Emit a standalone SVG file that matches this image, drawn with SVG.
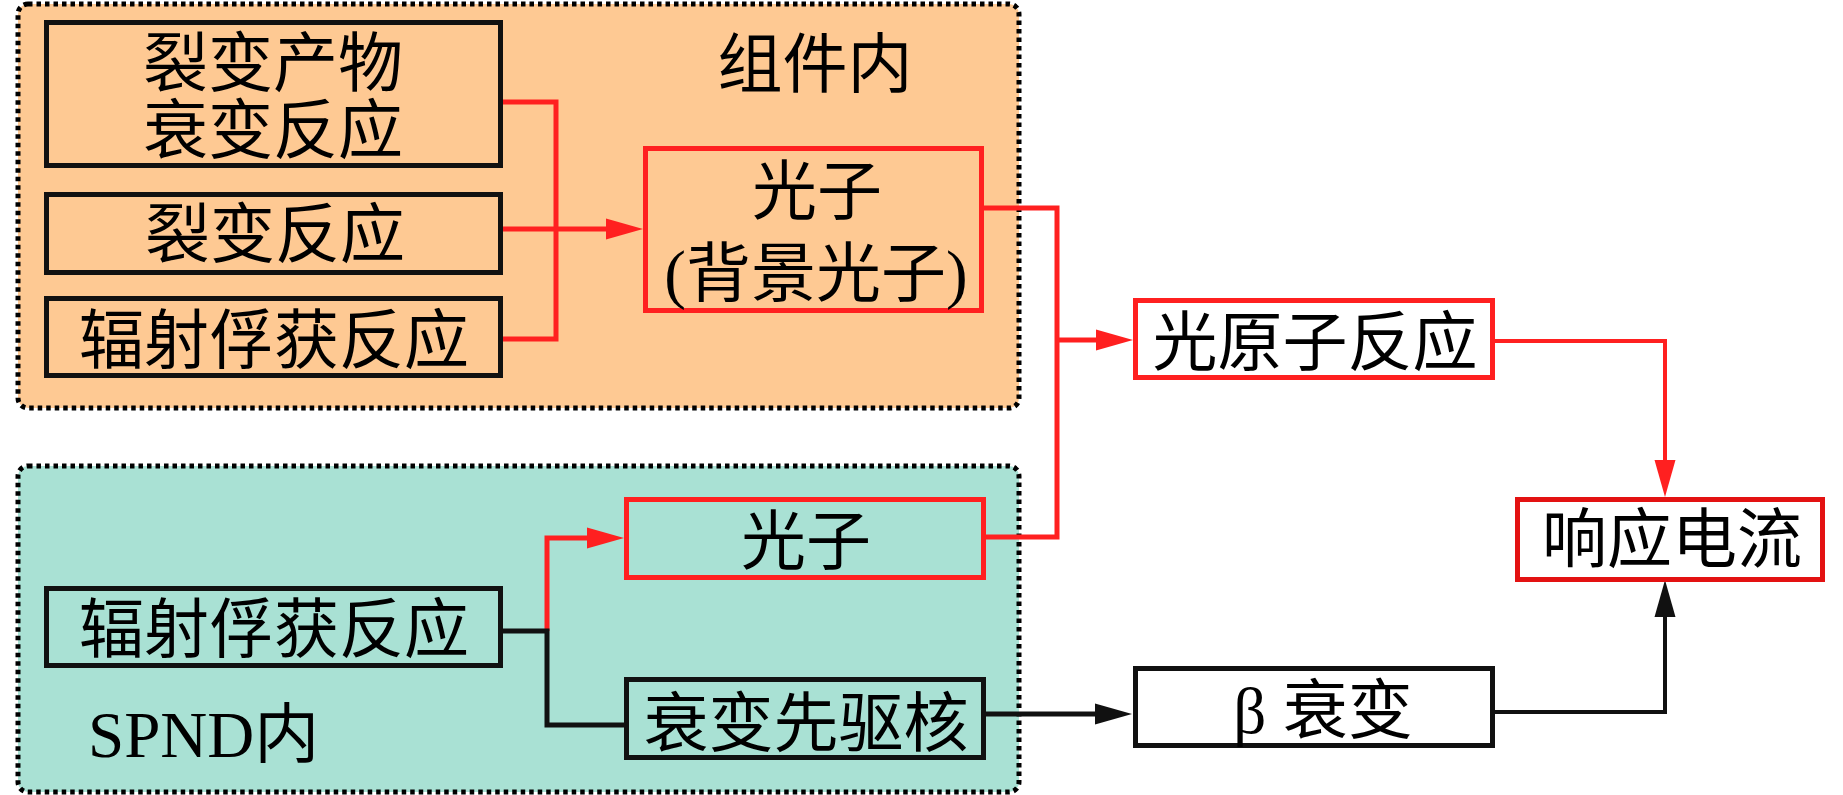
<svg xmlns="http://www.w3.org/2000/svg" width="1843" height="795" viewBox="0 0 1843 795">
<style>
.grp{stroke:#000;stroke-width:5;stroke-dasharray:4.5 4}
.bk{fill:none;stroke:#111;stroke-width:5}
.rd{fill:none;stroke:#FF2020;stroke-width:5}
.rd4{fill:none;stroke:#FF2020;stroke-width:4}
.bl{fill:none;stroke:#111;stroke-width:5}
.bl4{fill:none;stroke:#111;stroke-width:4}
text{font-family:"Liberation Serif","Noto Sans CJK SC",serif;font-size:65px;fill:#000;text-anchor:middle}
</style>
<defs>
<marker id="ar" markerUnits="userSpaceOnUse" markerWidth="37" markerHeight="21" refX="0" refY="10.5" orient="auto" overflow="visible">
<path d="M0,0 L37,10.5 L0,21 z" fill="#FF2020"/>
</marker>
<marker id="ab" markerUnits="userSpaceOnUse" markerWidth="37" markerHeight="21" refX="0" refY="10.5" orient="auto" overflow="visible">
<path d="M0,0 L37,10.5 L0,21 z" fill="#111"/>
</marker>
</defs>
<rect width="1843" height="795" fill="#fff"/>
<g id="group-assembly">
<rect class="grp" x="18" y="4" width="1001" height="404" rx="10" fill="#FEC993"/>
<text x="815" y="87">组件内</text>
</g>
<g id="group-spnd">
<rect class="grp" x="18" y="466" width="1001" height="326" rx="10" fill="#A9E1D4"/>
<text x="88" y="757" style="text-anchor:start">SPND内</text>
</g>
<g id="connectors">
<path class="rd" d="M503,102 H556 V339 H503"/>
<path class="rd" d="M503,229 H606" marker-end="url(#ar)"/>
<path class="rd" d="M984,208 H1057 V537 H986"/>
<path class="rd" d="M1057,340 H1096" marker-end="url(#ar)"/>
<path class="rd4" d="M1495,341 H1665 V460" marker-end="url(#ar)"/>
<path class="rd" d="M547,631 V538 H587" marker-end="url(#ar)"/>
<path class="bl" d="M503,631 H547 V725 H624"/>
<path class="bl" d="M986,714 H1095" marker-end="url(#ab)"/>
<path class="bl4" d="M1495,712 H1665 V617" marker-end="url(#ab)"/>
</g>
<g id="n-fission-product-decay">
<rect class="bk" x="46.5" y="22.5" width="454" height="143"/>
<text x="273" y="86">裂变产物</text>
<text x="273" y="153">衰变反应</text>
</g>
<g id="n-fission">
<rect class="bk" x="46.5" y="194.5" width="454" height="78"/>
<text x="275" y="257">裂变反应</text>
</g>
<g id="n-capture-top">
<rect class="bk" x="46.5" y="298.5" width="454" height="77"/>
<text x="274" y="363">辐射俘获反应</text>
</g>
<g id="n-photon-bg">
<rect class="rd" x="645.5" y="148.5" width="336" height="162"/>
<text x="817" y="214">光子</text>
<text x="816" y="296">(背景光子)</text>
</g>
<g id="n-photoatomic">
<rect class="rd" x="1135.5" y="300.5" width="357" height="77" fill="#fff"/>
<text x="1315" y="365">光原子反应</text>
</g>
<g id="n-current">
<rect x="1517.5" y="499.5" width="305" height="80" fill="#fff" stroke="#E31212" stroke-width="5"/>
<text x="1672" y="562">响应电流</text>
</g>
<g id="n-beta">
<rect class="bk" x="1135.5" y="668.5" width="357" height="77" fill="#fff"/>
<text x="1323" y="733">β 衰变</text>
</g>
<g id="n-capture-spnd">
<rect class="bk" x="46.5" y="588.5" width="454" height="77"/>
<text x="274" y="652">辐射俘获反应</text>
</g>
<g id="n-photon-spnd">
<rect class="rd" x="626.5" y="499.5" width="357" height="78"/>
<text x="806" y="564">光子</text>
</g>
<g id="n-precursor">
<rect class="bk" x="626.5" y="679.5" width="357" height="78"/>
<text x="806" y="746">衰变先驱核</text>
</g>
</svg>
